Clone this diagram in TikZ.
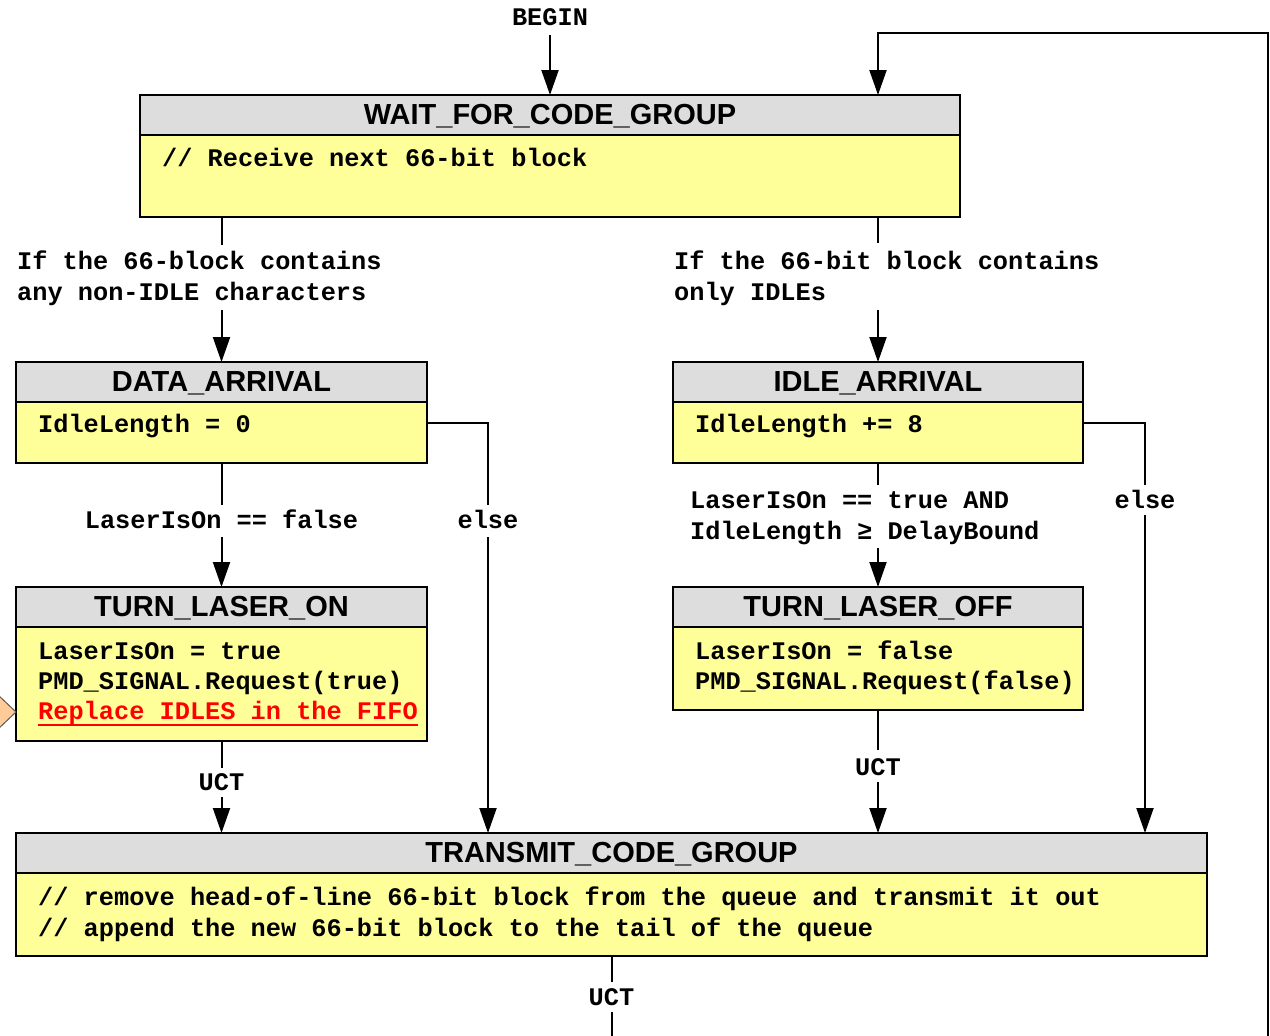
\documentclass[tikz,border=0pt]{standalone}
\usepackage{fontspec}
\setmainfont{Liberation Sans}
\newfontfamily\codefont{Liberation Mono}
\usetikzlibrary{arrows.meta}
\definecolor{titlegray}{HTML}{DDDDDD}
\definecolor{bodyyellow}{HTML}{FFFF99}
\definecolor{tipfill}{RGB}{255,204,153}
\definecolor{tipline}{RGB}{90,90,90}
\newcommand\redul[1]{\setbox0=\hbox{#1}\rlap{\rule[-7pt]{\wd0}{2.5pt}}\box0}
\begin{document}
\begin{tikzpicture}[x=1pt,y=-1pt,
  titlebox/.style={draw, line width=2.5pt, fill=titlegray, anchor=north west, inner sep=0pt, outer sep=0pt,
    minimum height=40pt, font=\bfseries\fontsize{29}{29}\selectfont, text height=21pt, text depth=2pt},
  bodybox/.style={draw, line width=2.5pt, fill=bodyyellow, anchor=north west, inner sep=0pt, outer sep=0pt},
  code/.style={anchor=base west, inner sep=0pt, font=\codefont\bfseries\fontsize{25.3}{31}\selectfont},
  codec/.style={code, anchor=base},
  conn/.style={line width=2pt},
  arr/.style={conn, -{Triangle[length=25pt,width=17pt]}},
]
\useasboundingbox (0,0) rectangle (1270,1036);

% ---- state boxes ----
\node[titlebox, minimum width=820pt] (wait) at (140,95) {WAIT\_FOR\_CODE\_GROUP};
\node[bodybox, minimum width=820pt, minimum height=82pt] (waitbody) at (140,135) {};

\node[titlebox, minimum width=411pt] (datat) at (16,362) {DATA\_ARRIVAL};
\node[bodybox, minimum width=411pt, minimum height=61pt] (databody) at (16,402) {};

\node[titlebox, minimum width=410pt] (idlet) at (673,362) {IDLE\_ARRIVAL};
\node[bodybox, minimum width=410pt, minimum height=61pt] (idlebody) at (673,402) {};

\node[titlebox, minimum width=411pt] (tont) at (16,587) {TURN\_LASER\_ON};
\node[bodybox, minimum width=411pt, minimum height=114pt] (tonbody) at (16,627) {};

\node[titlebox, minimum width=410pt] (tofft) at (673,587) {TURN\_LASER\_OFF};
\node[bodybox, minimum width=410pt, minimum height=83pt] (toffbody) at (673,627) {};

\node[titlebox, minimum width=1191pt] (txt) at (16,833) {TRANSMIT\_CODE\_GROUP};
\node[bodybox, minimum width=1191pt, minimum height=83pt] (txbody) at (16,873) {};

% ---- body texts ----
\node[code] (waitl1) at (162,166) {// Receive next 66-bit block};
\node[code] (datal1) at (38,432) {IdleLength = 0};
\node[code] (idlel1) at (695,432) {IdleLength += 8};
\node[code] (tonl1) at (38,659) {LaserIsOn = true};
\node[code] (tonl2) at (38,689) {PMD\_SIGNAL.Request(true)};
\node[code, text=red] (tonl3) at (38,719) {\redul{Replace IDLES in the FIFO}};
\node[code] (toffl1) at (695,659) {LaserIsOn = false};
\node[code] (toffl2) at (695,689) {PMD\_SIGNAL.Request(false)};
\node[code] (txl1) at (38,905) {// remove head-of-line 66-bit block from the queue and transmit it out};
\node[code] (txl2) at (38,936) {// append the new 66-bit block to the tail of the queue};

% ---- labels ----
\node[codec] (begin) at (550,25) {BEGIN};
\node[code] (lblL1) at (17,269) {If the 66-block contains};
\node[code] (lblL2) at (17,300) {any non-IDLE characters};
\node[code] (lblR1) at (674,269) {If the 66-bit block contains};
\node[code] (lblR2) at (674,300) {only IDLEs};
\node[codec] (lblon) at (221.5,528) {LaserIsOn == false};
\node[codec] (elseL) at (488,528) {else};
\node[codec] (elseR) at (1145,508) {else};
\node[code] (lbloff1) at (690,508) {LaserIsOn == true AND};
\node[code] (lbloff2) at (690,539) {IdleLength ≥ DelayBound};
\node[codec] (uct1) at (221.5,790) {UCT};
\node[codec] (uct2) at (878,775) {UCT};
\node[codec] (uct3) at (611.5,1005) {UCT};

% ---- off-picture ends of the loop ----
\coordinate (loopbot) at (611.5,1040);
\coordinate (loopR) at (1268,1040);
\coordinate (loopTop) at (878,33);

% ---- connectors ----
\draw[arr] ([yshift=-10pt]begin.base) -- (begin.base |- wait.north);

\draw[conn] (waitbody.south -| datat.north) -- ++(0,28);
\draw[arr] ([yshift=52pt]datat.north) -- (datat.north);

\draw[conn] (waitbody.south -| idlet.north) -- ++(0,26);
\draw[arr] ([yshift=52pt]idlet.north) -- (idlet.north);

\draw[conn] (lblon.base |- databody.south) -- ([yshift=23pt]lblon.base);
\draw[arr] ([yshift=-9pt]lblon.base) -- (lblon.base |- tont.north);

\draw[conn] ([yshift=9.5pt]databody.east) -| ([yshift=23pt]elseL.base);
\draw[arr] ([yshift=-9pt]elseL.base) -- (elseL.base |- txt.north);

\draw[conn] ([yshift=9.5pt]idlebody.east) -| ([yshift=23pt]elseR.base);
\draw[arr] ([yshift=-7pt]elseR.base) -- (elseR.base |- txt.north);

\draw[conn] (idlebody.south) -- ++(0,22);
\draw[arr] ([yshift=39pt]tofft.north) -- (tofft.north);

\draw[conn] (uct1.base |- tonbody.south) -- ([yshift=22pt]uct1.base);
\draw[arr] ([yshift=-7pt]uct1.base) -- (uct1.base |- txt.north);

\draw[conn] (uct2.base |- toffbody.south) -- ([yshift=25pt]uct2.base);
\draw[arr] ([yshift=-7pt]uct2.base) -- (uct2.base |- txt.north);

\draw[conn] (uct3.base |- txbody.south) -- ([yshift=23pt]uct3.base);
\draw[conn] ([yshift=-7pt]uct3.base) -- (loopbot);

\draw[arr] (loopR) |- (loopTop) -- (loopTop |- wait.north);

% ---- partial orange marker at left edge ----
\draw[fill=tipfill, draw=tipline, line width=1pt] (-4,693) -- (tonbody.west |- 0,712) -- (-4,731) -- cycle;
\end{tikzpicture}
\end{document}
